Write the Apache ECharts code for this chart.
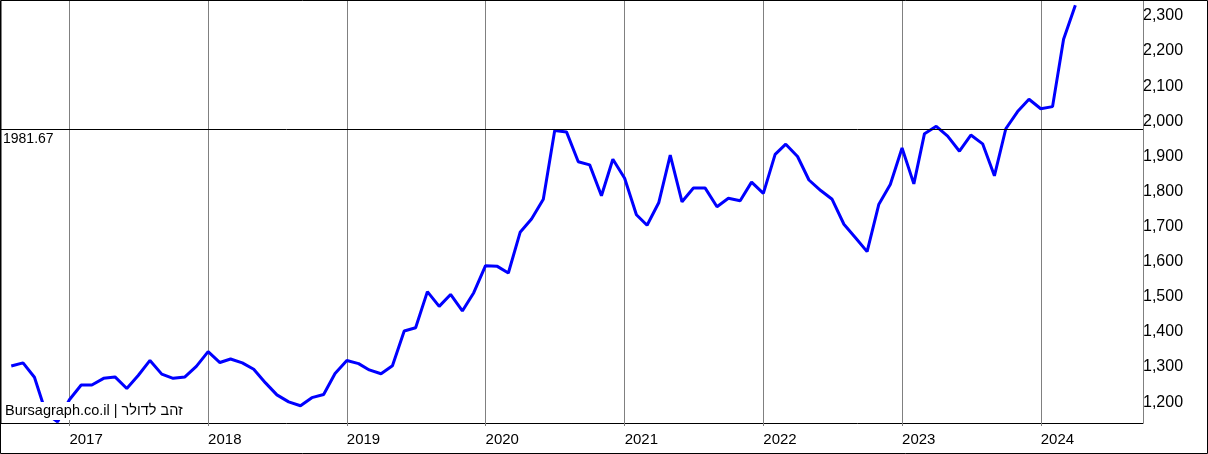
<!DOCTYPE html>
<html>
<head>
<meta charset="utf-8">
<script src="https://cdn.jsdelivr.net/npm/echarts@6/dist/echarts.min.js"></script>
<style>
html,body{margin:0;padding:0;background:#fff;}
#chart{width:1208px;height:454px;}
</style>
</head>
<body>
<div id="chart"></div>
<script>
// Monthly gold price (USD), first value = Aug 2016
const firstYear = 2016;
const firstMonth = 8;
const gold2016 = [1307, 1316, 1275, 1171, 1148];
const gold2017 = [1211, 1253, 1253, 1272, 1276, 1243, 1280, 1323, 1284, 1272, 1276, 1306];
const gold2018 = [1348, 1317, 1327, 1316, 1298, 1259, 1225, 1205, 1194, 1217, 1226, 1286];
const gold2019 = [1323, 1314, 1296, 1285, 1308, 1407, 1416, 1519, 1477, 1511, 1464, 1516];
const gold2020 = [1593, 1591, 1572, 1688, 1726, 1782, 1978, 1974, 1889, 1880, 1792, 1896];
const gold2021 = [1842, 1738, 1708, 1773, 1908, 1775, 1814, 1814, 1761, 1785, 1778, 1831];
const gold2022 = [1799, 1910, 1939, 1904, 1837, 1807, 1782, 1711, 1672, 1633, 1768, 1824];
const gold2023 = [1928, 1826, 1969, 1990, 1962, 1919, 1965, 1940, 1849, 1983, 2032, 2067];
const gold2024 = [2040, 2046, 2238, 2335];
const refLevel = 1981.67;
const yTicks = [1200, 1300, 1400, 1500, 1600, 1700, 1800, 1900, 2000, 2100, 2200, 2300];
const watermark = 'Bursagraph.co.il | זהב לדולר';

const values = [].concat(gold2016, gold2017, gold2018, gold2019, gold2020, gold2021, gold2022, gold2023, gold2024);
const seriesData = values.map(function (v, i) {
  const m = firstMonth - 1 + i;
  return [new Date(firstYear + Math.floor(m / 12), m % 12, 1).getTime(), v];
});

const FONT = '"Liberation Sans", Arial, sans-serif';
const chart = echarts.init(document.getElementById('chart'), null, {renderer: 'canvas'});
chart.setOption({
  animation: false,
  backgroundColor: '#fff',
  grid: {left: 1, right: 65, top: 1, bottom: 31, containLabel: false},
  xAxis: {
    type: 'time',
    min: new Date(2016, 6, 5).getTime(),
    max: new Date(2024, 8, 26).getTime(),
    splitNumber: 8,
    minInterval: 365 * 24 * 3600 * 1000,
    maxInterval: 366 * 24 * 3600 * 1000,
    axisLine: {show: true, lineStyle: {color: '#000', width: 1}},
    axisTick: {show: true, length: 3, lineStyle: {color: '#808080'}},
    splitLine: {show: true, lineStyle: {color: '#808080', width: 1}},
    axisLabel: {
      color: '#000', fontSize: 15, fontFamily: FONT, align: 'left', margin: 9,
      formatter: function (v) { return String(new Date(v).getFullYear()); }
    }
  },
  yAxis: {
    type: 'value',
    position: 'right',
    min: 1144.8,
    max: 2346.9,
    splitNumber: 12,
    axisLine: {show: false},
    axisTick: {show: false},
    splitLine: {show: false},
    axisLabel: {
      color: '#000', fontSize: 16, fontFamily: FONT, margin: 0,
      showMinLabel: false, showMaxLabel: false,
      verticalAlign: 'bottom', lineHeight: 3,
      formatter: function (v) {
        return yTicks.indexOf(Math.round(v)) >= 0 && Math.abs(v - Math.round(v)) < 1e-6 ? Math.round(v).toLocaleString('en-US') : '';
      }
    }
  },
  series: [{
    type: 'line',
    data: seriesData,
    showSymbol: false,
    clip: true,
    lineStyle: {color: '#0000ff', width: 3},
    itemStyle: {color: '#0000ff'},
    markLine: {
      silent: true,
      symbol: ['none', 'none'],
      lineStyle: {color: '#000', width: 1, type: 'solid'},
      label: {
        show: true, position: 'insideStartBottom', distance: [2, 3],
        color: '#000', fontSize: 14, fontFamily: FONT,
        formatter: function () { return String(refLevel); }
      },
      data: [{yAxis: refLevel}]
    }
  }],
  graphic: [
    {
      type: 'rect', z: 99, silent: true,
      shape: {x: 2, y: 402, width: 192, height: 18},
      style: {fill: '#fff', stroke: 'none'}
    },
    {
      type: 'text', z: 100, silent: true,
      style: {text: watermark, x: 5, y: 403, font: '14.5px ' + FONT, fill: '#000', textVerticalAlign: 'top', verticalAlign: 'top'}
    },
    {
      type: 'rect', z: 200, silent: true,
      shape: {x: 0.5, y: 0.5, width: 1207, height: 453},
      style: {fill: 'none', stroke: '#000', lineWidth: 1}
    }
  ]
});
</script>
</body>
</html>
